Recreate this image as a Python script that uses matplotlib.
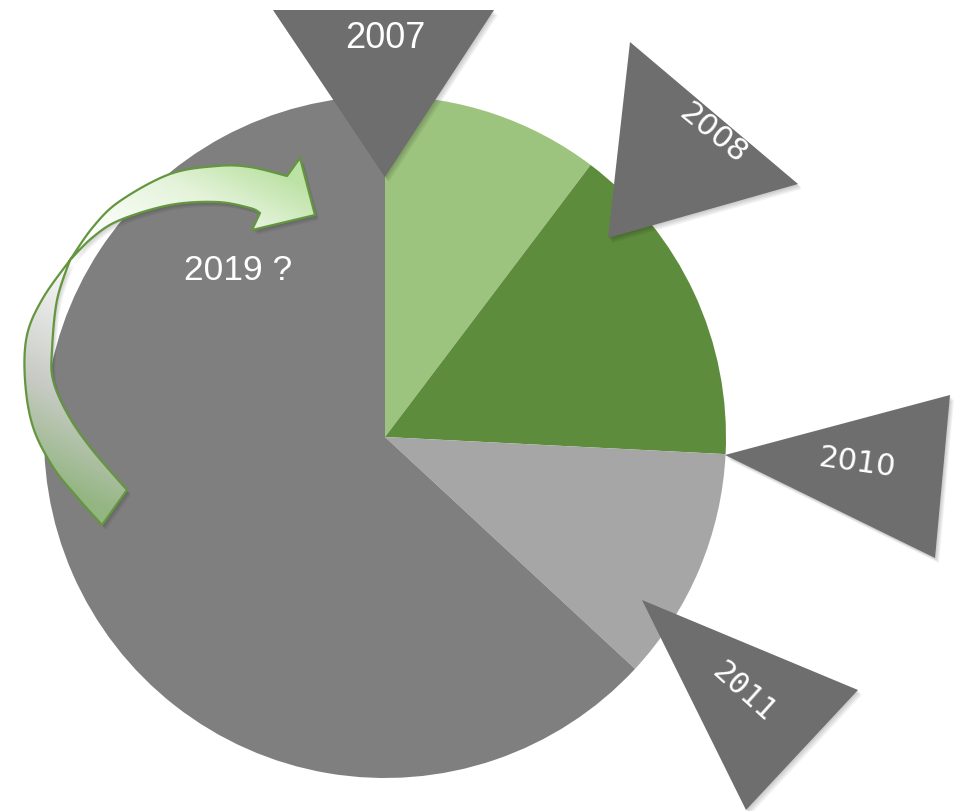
import numpy as np
import matplotlib
matplotlib.use("Agg")
import matplotlib.pyplot as plt
from matplotlib.patches import Polygon
from matplotlib.colors import LinearSegmentedColormap

W, H = 963, 811

# pie shares, clockwise from 12 o'clock
shares = [10.3, 15.5, 11.1, 63.1]
slice_colors = ["#9DC47E", "#5E8C3D", "#A6A6A6", "#7F7F7F"]

# year markers (triangles) -- pixel coords, y down
years = ["2007", "2008", "2010", "2011"]
year_tris = [
    [(273, 10), (494, 10), (385, 177)],
    [(630, 42), (798, 184), (608, 238)],
    [(725, 455), (950, 395), (935, 558)],
    [(642, 600), (858, 690), (746, 810)],
]
year_pos = [(385, 39), (713, 134), (857, 463), (744, 692)]
year_rot = [0, -39, -8, -42]
year_fonts = [("Liberation Sans", 26), ("DejaVu Sans", 22),
              ("DejaVu Sans", 22), ("DejaVu Sans Mono", 22)]

question = "2019 ?"


def P(pts):
    # pixel (y down) -> data (y up)
    return [(x, H - y) for x, y in pts]


def catmull(pts, n=10):
    pts = np.asarray(pts, float)
    ext = np.vstack([pts[0], pts, pts[-1]])
    out = []
    for i in range(1, len(ext) - 2):
        p0, p1, p2, p3 = ext[i - 1], ext[i], ext[i + 1], ext[i + 2]
        for t in np.linspace(0, 1, n, endpoint=False):
            out.append(0.5 * ((2 * p1) + (-p0 + p2) * t +
                              (2 * p0 - 5 * p1 + 4 * p2 - p3) * t ** 2 +
                              (-p0 + 3 * p1 - 3 * p2 + p3) * t ** 3))
    out.append(pts[-1])
    return [tuple(p) for p in out]


def soft_shadow(ax, pts, dx, dy, z, steps=4, alpha=0.05):
    for k in range(1, steps + 1):
        ax.add_patch(Polygon([(x + dx * k / steps, y - dy * k / steps)
                              for x, y in pts], closed=True,
                             facecolor="#000000", alpha=alpha, linewidth=0,
                             zorder=z))


fig = plt.figure(figsize=(W / 100, H / 100), dpi=100)
ax = fig.add_axes([0, 0, 1, 1])

# pie
ax.pie(shares, colors=slice_colors, startangle=90, counterclock=False,
       center=(385, H - 437), radius=341, frame=True,
       wedgeprops=dict(linewidth=0))
ax.set_xlim(0, W)
ax.set_ylim(0, H)
ax.axis("off")

# curved "twisted" arrow: the two edges touch at X
left_edge = [(102, 525), (77, 497), (53, 467), (33, 427), (25, 380),
             (27, 335), (43, 298), (70, 260)]
upper_edge = [(70, 260), (93, 227), (120, 201), (170, 174), (217, 166),
              (250, 167), (287, 176)]
head = [(300, 158), (315, 215), (252, 230)]
lower_edge = [(260, 213), (250, 208), (217, 202), (170, 205), (120, 220),
              (93, 237), (70, 260)]
right_edge = [(70, 260), (57, 300), (52, 350), (53, 380), (67, 413),
              (90, 447), (127, 490)]
arrow_pts = (catmull(left_edge)[:-1] + catmull(upper_edge) + head +
             catmull(lower_edge)[:-1] + catmull(right_edge))
soft_shadow(ax, P(arrow_pts), 4, 5, 3, steps=4, alpha=0.05)
ax.add_patch(Polygon(P(arrow_pts), closed=True, facecolor="none",
                     edgecolor="#64963F", linewidth=1.6, zorder=5,
                     joinstyle="round"))

cmap = LinearSegmentedColormap.from_list("arr", [
    (0.0, "#93B581"), (0.22, "#C6CAC3"), (0.5, "#F4F4F4"),
    (0.62, "#FFFFFF"), (0.85, "#E4F3DA"), (1.0, "#BCE2A4")])
xs = np.linspace(0, 340, 341)
ys = np.linspace(140, 540, 401)
X, Y = np.meshgrid(xs, ys)
U = np.clip((X - 2 * Y + 920) / 860, 0, 1)
im = ax.imshow(U, cmap=cmap, vmin=0, vmax=1, origin="upper",
               extent=(0, 340, H - 540, H - 140), zorder=4,
               interpolation="bilinear", aspect="auto")
im.set_clip_path(Polygon(P(arrow_pts), closed=True, transform=ax.transData))
ax.set_xlim(0, W)
ax.set_ylim(0, H)

ax.text(238, H - 270, question, color="white", fontsize=25.5,
        family="Liberation Sans", ha="center", va="center", zorder=6)

# year triangles
for yr, tri, pos, rot, (fam, fs) in zip(years, year_tris, year_pos,
                                        year_rot, year_fonts):
    pts = P(tri)
    soft_shadow(ax, pts, 4, 5, 7, steps=4, alpha=0.05)
    ax.add_patch(Polygon(pts, closed=True, facecolor="#6E6E6E",
                         linewidth=0, zorder=8))
    ax.text(pos[0], H - pos[1], yr, color="white", fontsize=fs, family=fam,
            rotation=rot, rotation_mode="anchor", ha="center", va="center",
            zorder=9)

fig.savefig("out.png", dpi=100, facecolor="white")
